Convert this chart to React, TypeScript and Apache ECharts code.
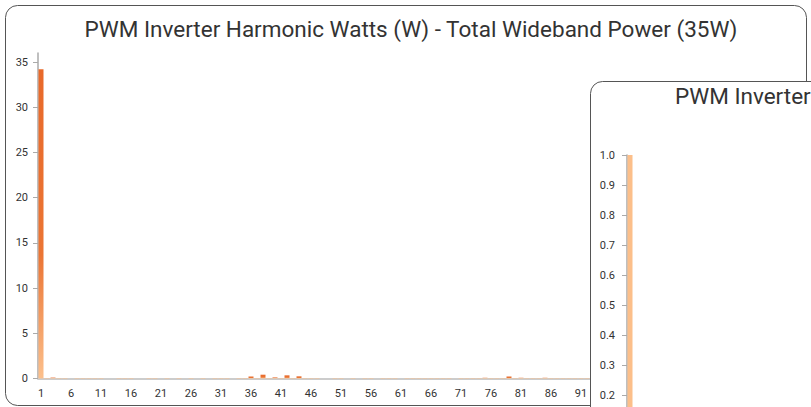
import React, { useEffect, useRef } from "react";
import * as echarts from "echarts";

const mainTitle = "PWM Inverter Harmonic Watts (W) - Total Wideband Power (35W)";
const insetTitle = "PWM Inverter";

const harmonics: string[] = Array.from({ length: 125 }, (_, i) => String(i + 1));

const watts: number[] = [
  34.2, 0.05, 0.1, 0.05, 0.05, 0, 0.05, 0.05, 0.05, 0.05,
  0.05, 0, 0, 0.05, 0.05, 0.05, 0, 0, 0.05, 0.05,
  0, 0.05, 0, 0.05, 0, 0.05, 0, 0.05, 0, 0.05,
  0.05, 0.05, 0, 0.05, 0.05, 0.22, 0.05, 0.42, 0.05, 0.12,
  0.05, 0.35, 0.05, 0.24, 0.05, 0.05, 0.05, 0, 0, 0.05,
  0.05, 0, 0.05, 0, 0.05, 0.05, 0, 0.05, 0.05, 0.05,
  0, 0.05, 0.05, 0.05, 0.05, 0.05, 0.05, 0.05, 0.05, 0,
  0.05, 0.05, 0.05, 0.05, 0.08, 0.05, 0.05, 0.05, 0.22, 0.05,
  0.08, 0.05, 0.05, 0.05, 0.08, 0.05, 0.05, 0.05, 0.05, 0.05,
  0.05, 0.05, 0.05, 0.05, 0.05, 0.05, 0.05, 0.05, 0.05, 0.05,
  0.05, 0.05, 0.05, 0.05, 0.05, 0.05, 0.05, 0.05, 0.05, 0.05,
  0.05, 0.05, 0.05, 0.05, 0.05, 0.05, 0.05, 0.05, 0.05, 0.05,
  0.05, 0.05, 0.05, 0.05, 0.05,
];

const mainTicks: number[] = [0, 5, 10, 15, 20, 25, 30, 35];
const insetLabels: number[] = [0.2, 0.3, 0.4, 0.5, 0.6, 0.7, 0.8, 0.9, 1.0];
const lastVisibleHarmonicIndex = 90;

const FONT = "Roboto, 'Noto Sans', sans-serif";

export default function App() {
  const ref = useRef<HTMLDivElement>(null);

  useEffect(() => {
    if (!ref.current) return;
    const chart = echarts.init(ref.current, undefined, { renderer: "svg" });
    const gradient = new echarts.graphic.LinearGradient(0, 0, 0, 1, [
      { offset: 0, color: "#e8692a" },
      { offset: 0.6, color: "#eb7534" },
      { offset: 1, color: "#fcc08c" },
    ]);
    chart.setOption({
      animation: false,
      textStyle: { fontFamily: FONT },
      graphic: [
        {
          type: "rect",
          z: 0,
          shape: { x: 5.5, y: 5.5, width: 801, height: 400, r: 12 },
          style: { fill: "#fff", stroke: "#555", lineWidth: 1 },
        },
        {
          type: "text",
          z: 1,
          style: {
            text: mainTitle,
            x: 411,
            y: 29,
            align: "center",
            verticalAlign: "middle",
            font: `22.5px ${FONT}`,
            fill: "#333",
          },
        },
        {
          type: "rect",
          z: 20,
          shape: { x: 590.5, y: 81.5, width: 700, height: 500, r: 12 },
          style: { fill: "#fff", stroke: "#555", lineWidth: 1 },
        },
        {
          type: "text",
          z: 23,
          style: {
            text: insetTitle,
            x: 675,
            y: 96,
            align: "left",
            verticalAlign: "middle",
            font: `22.5px ${FONT}`,
            fill: "#333",
          },
        },
      ],
      grid: [
        { left: 38, top: 53, width: 750, height: 325.5 },
        { left: 627, top: 155, width: 750, height: 300 },
      ],
      xAxis: [
        {
          type: "category",
          gridIndex: 0,
          z: 1,
          data: harmonics,
          axisLine: { lineStyle: { color: "#ccc", width: 2 } },
          axisTick: { interval: 4, length: 4, lineStyle: { color: "#aaa" } },
          axisLabel: {
            interval: (i: number) => i % 5 === 0 && i <= lastVisibleHarmonicIndex,
            color: "#333",
            fontSize: 11,
            margin: 9,
            fontFamily: FONT,
          },
        },
        {
          type: "category",
          gridIndex: 1,
          z: 21,
          data: harmonics,
          axisLine: { lineStyle: { color: "#ccc", width: 2 } },
          axisTick: { interval: 4, length: 4, lineStyle: { color: "#aaa" } },
          axisLabel: { show: false },
        },
      ],
      yAxis: [
        {
          type: "value",
          gridIndex: 0,
          z: 1,
          min: 0,
          max: 36,
          interval: 5,
          splitLine: { show: false },
          axisLine: { show: true, lineStyle: { color: "#aaa", width: 1.5 } },
          axisTick: { show: true, length: 5, customValues: mainTicks, lineStyle: { color: "#aaa" } },
          axisLabel: { color: "#333", fontSize: 11, margin: 10, customValues: mainTicks, fontFamily: FONT },
        },
        {
          type: "value",
          gridIndex: 1,
          z: 21,
          min: 0,
          max: 1,
          interval: 0.1,
          splitLine: { show: false },
          axisLine: { show: true, lineStyle: { color: "#aaa", width: 1.5 } },
          axisTick: { show: true, length: 5, lineStyle: { color: "#aaa" } },
          axisLabel: {
            color: "#333",
            fontSize: 11,
            margin: 12,
            fontFamily: FONT,
            customValues: insetLabels,
            formatter: (v: number) => v.toFixed(1),
          },
        },
      ],
      series: [
        {
          type: "bar",
          xAxisIndex: 0,
          yAxisIndex: 0,
          z: 2,
          data: watts,
          barWidth: 5,
          itemStyle: { color: gradient },
        },
        {
          type: "bar",
          xAxisIndex: 1,
          yAxisIndex: 1,
          z: 22,
          clip: true,
          data: watts,
          barWidth: 5,
          itemStyle: { color: "#fcbf8a" },
        },
      ],
    });
    return () => chart.dispose();
  }, []);

  return (
    <div
      style={{ position: "fixed", left: 0, top: 0, width: 811, height: 407, overflow: "hidden", background: "#fff" }}
    >
      <div ref={ref} style={{ width: 1400, height: 640 }} />
    </div>
  );
}
